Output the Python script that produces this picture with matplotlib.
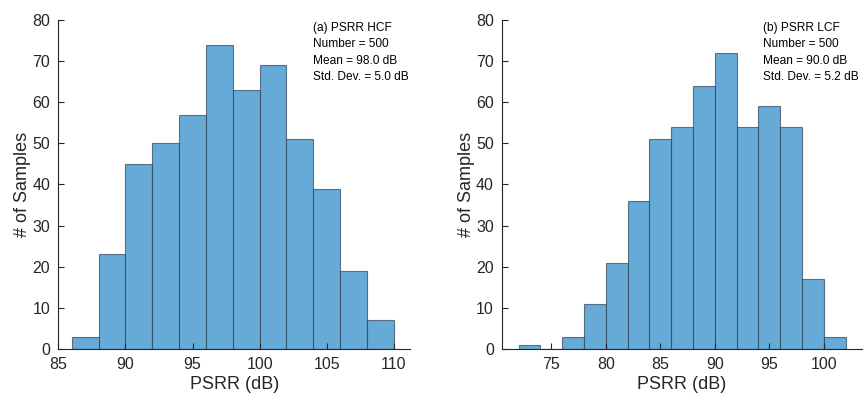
import matplotlib.pyplot as plt
import numpy as np

plt.rcParams['font.family'] = ['Liberation Sans', 'DejaVu Sans']

# bin edges and counts
edges_hcf = np.arange(86, 111, 2)
counts_hcf = [3, 23, 45, 50, 57, 74, 63, 69, 51, 39, 19, 7]

edges_lcf = np.arange(72, 103, 2)
counts_lcf = [1, 0, 3, 11, 21, 36, 51, 54, 64, 72, 54, 59, 54, 17, 3]

notes_hcf = ["(a) PSRR HCF", "Number = 500", "Mean = 98.0 dB", "Std. Dev. = 5.0 dB"]
notes_lcf = ["(b) PSRR LCF", "Number = 500", "Mean = 90.0 dB", "Std. Dev. = 5.2 dB"]

face = '#66aad7'
dark = '#262626'

fig = plt.figure(figsize=(8.63, 3.96), dpi=100)
ax1 = fig.add_axes([0.0676, 0.1187, 0.4074, 0.8308])
ax2 = fig.add_axes([0.582, 0.1187, 0.4168, 0.8308])


def draw(ax, edges, counts, notes, xlim, xticks):
    lefts = edges[:-1]
    widths = np.diff(edges)
    ax.bar(lefts, counts, width=widths, align='edge', color=face,
           edgecolor=(0.15, 0.22, 0.3, 0.65), linewidth=0.8)
    ax.set_xlim(*xlim)
    ax.set_ylim(0, 80)
    ax.set_xticks(xticks)
    ax.set_yticks(range(0, 81, 10))
    for s in ['top', 'right']:
        ax.spines[s].set_visible(False)
    for s in ['left', 'bottom']:
        ax.spines[s].set_color(dark)
        ax.spines[s].set_linewidth(0.8)
    ax.tick_params(direction='in', length=4, width=0.8, colors=dark,
                   labelsize=11.5, pad=6)
    ax.set_xlabel('PSRR (dB)', fontsize=13, color=dark, labelpad=3)
    ax.set_ylabel('# of Samples', fontsize=13, color=dark, labelpad=1)
    ax.text(0.724, 0.995, "\n".join(notes), transform=ax.transAxes,
            ha='left', va='top', fontsize=8.6, color='black', linespacing=1.5)


draw(ax1, edges_hcf, counts_hcf, notes_hcf, (85, 111.2), range(85, 111, 5))
draw(ax2, edges_lcf, counts_lcf, notes_lcf, (70.5, 103.5), range(75, 101, 5))

fig.savefig('out.png', dpi=100)
